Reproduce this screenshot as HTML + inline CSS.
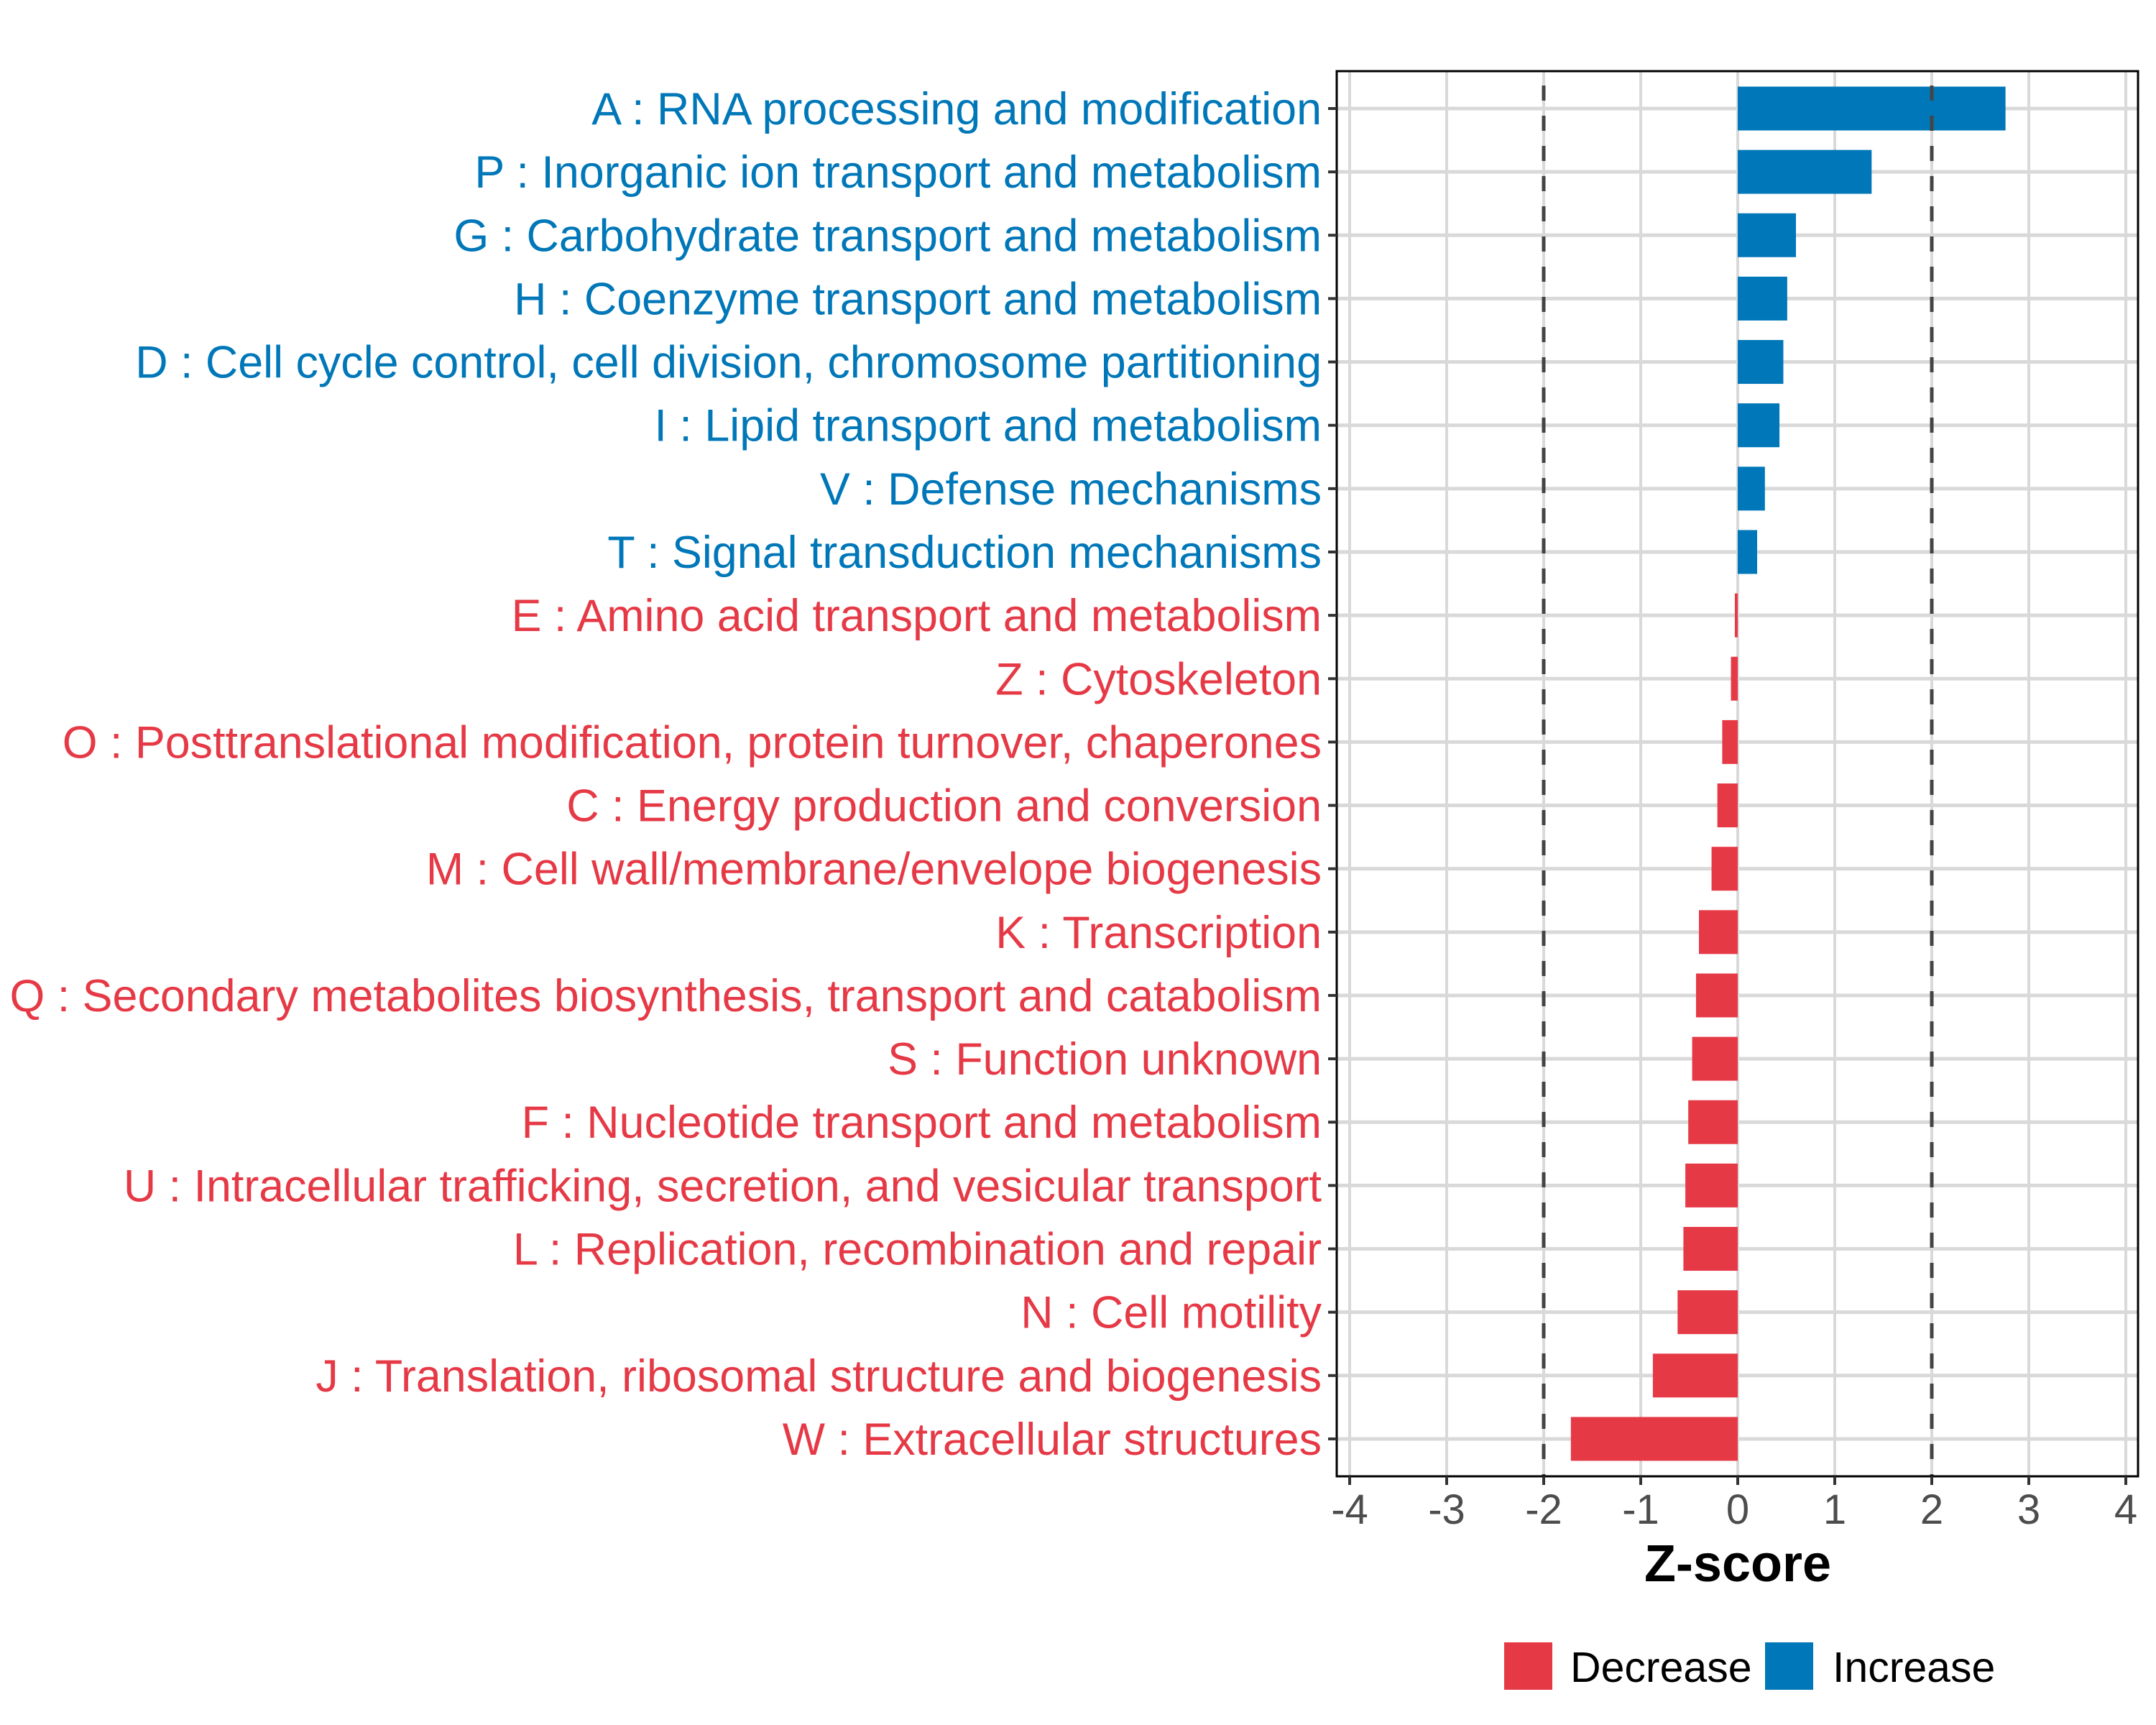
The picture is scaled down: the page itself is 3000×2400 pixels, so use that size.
<!DOCTYPE html>
<html><head><meta charset="utf-8"><style>
html,body{margin:0;padding:0;background:#fff}
svg{display:block}
text{font-family:"Liberation Sans",Arial,sans-serif}
</style></head><body>
<svg id="chart" width="3000" height="2400" viewBox="0 0 3000 2400" xmlns="http://www.w3.org/2000/svg">
<rect x="0" y="0" width="3000" height="2400" fill="#fff"/>
<g id="grid"></g>
<g id="bars"></g>
<g id="refs"></g>
<rect x="1860" y="99" width="1115" height="1955" fill="none" stroke="#000" stroke-width="3"/>
<g id="ylabels"></g>
<g id="xaxis"></g>
<text x="2418" y="2200" text-anchor="middle" font-size="72" font-weight="bold" fill="#000">Z-score</text>
<g>
<rect x="2093" y="2285" width="67" height="66" fill="#E63946"/>
<text x="2185" y="2340" font-size="59" fill="#000">Decrease</text>
<rect x="2456" y="2285" width="67" height="66" fill="#0077B8"/>
<text x="2550" y="2340" font-size="59" fill="#000">Increase</text>
</g>
</svg>
<script>
const categories = ["A : RNA processing and modification","P : Inorganic ion transport and metabolism","G : Carbohydrate transport and metabolism","H : Coenzyme transport and metabolism","D : Cell cycle control, cell division, chromosome partitioning","I : Lipid transport and metabolism","V : Defense mechanisms","T : Signal transduction mechanisms","E : Amino acid transport and metabolism","Z : Cytoskeleton","O : Posttranslational modification, protein turnover, chaperones","C : Energy production and conversion","M : Cell wall/membrane/envelope biogenesis","K : Transcription","Q : Secondary metabolites biosynthesis, transport and catabolism","S : Function unknown","F : Nucleotide transport and metabolism","U : Intracellular trafficking, secretion, and vesicular transport","L : Replication, recombination and repair","N : Cell motility","J : Translation, ribosomal structure and biogenesis","W : Extracellular structures"];
const zscores = [2.76,1.38,0.60,0.51,0.47,0.43,0.28,0.20,-0.03,-0.07,-0.16,-0.21,-0.27,-0.40,-0.43,-0.47,-0.51,-0.54,-0.56,-0.62,-0.875,-1.72];
const xTicks = [-4,-3,-2,-1,0,1,2,3,4];
const xTickLabels = ["-4","-3","-2","-1","0","1","2","3","4"];
const refLines = [-2,2];

const NS="http://www.w3.org/2000/svg";
const X0=2418, UNIT=135, Y0=151, STEP=88.14, BARH=61;
const xs=v=>X0+v*UNIT;
const ys=i=>Y0+i*STEP;
const BLUE="#0077B8", RED="#E63946";
function mk(tag,attrs,parent){const e=document.createElementNS(NS,tag);for(const k in attrs)e.setAttribute(k,attrs[k]);parent.appendChild(e);return e;}
const grid=document.getElementById('grid'),bars=document.getElementById('bars'),refs=document.getElementById('refs'),yl=document.getElementById('ylabels'),xa=document.getElementById('xaxis');
xTicks.forEach((t,i)=>{
  const g=mk('line',{x1:xs(t),x2:xs(t),y1:99,y2:2054,stroke:"#d9d9d9","stroke-width":4},grid);
  
  
  const tk=mk('line',{x1:xs(t),x2:xs(t),y1:2054,y2:2066,stroke:"#333","stroke-width":4},xa);
  
  
  const tl=mk('text',{x:xs(t),y:2120,"text-anchor":"middle","font-size":58,fill:"#4d4d4d"},xa);
  
  
  tl.textContent=xTickLabels[i];
});
categories.forEach((c,i)=>{
  const y=ys(i);
  const g=mk('line',{x1:1860,x2:2975,y1:y,y2:y,stroke:"#d9d9d9","stroke-width":5},grid);
  
  
  const v=zscores[i], col=v>=0?BLUE:RED;
  const b=mk('rect',{x:Math.min(xs(0),xs(v)),y:y-BARH/2,width:Math.abs(xs(v)-xs(0)),height:BARH,fill:col},bars);
  
  
  const tk=mk('line',{x1:1848,x2:1860,y1:y,y2:y,stroke:"#333","stroke-width":4},yl);
  
  
  const t=mk('text',{x:1839,y:y+22,"text-anchor":"end","font-size":62.8,fill:col},yl);
  
  
  t.textContent=c;
});
refLines.forEach(r=>{
  const l=mk('line',{x1:xs(r),x2:xs(r),y1:99,y2:2054,stroke:"#444","stroke-width":5,"stroke-dasharray":"21 21","stroke-dashoffset":"-20"},refs);
  
  
});
</script>
</body></html>
